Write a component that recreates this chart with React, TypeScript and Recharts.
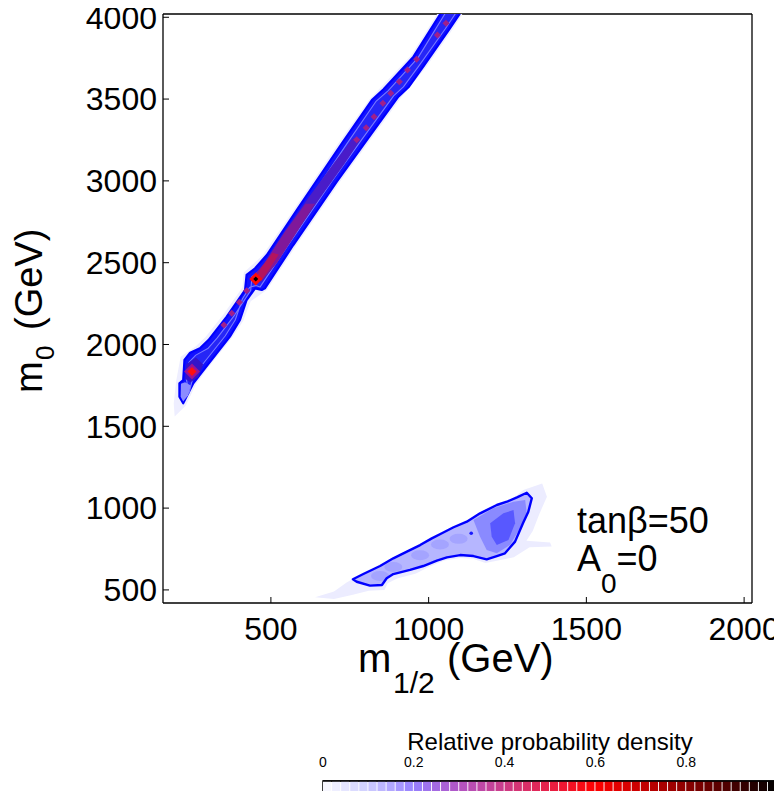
import React from "react";
import {
    Bar,
    BarChart,
    Cell,
    Customized,
    ReferenceArea,
    ReferenceLine,
    Scatter,
    ScatterChart,
    XAxis,
    YAxis,
} from "recharts";

type Pt = { x: number; y: number };

const FONT = "'Liberation Sans', Arial, Helvetica, sans-serif";

const X_TICKS = [500, 1000, 1500, 2000];
const Y_TICKS = [500, 1000, 1500, 2000, 2500, 3000, 3500, 4000];
const X_DOMAIN: [number, number] = [158, 2025];
const Y_DOMAIN: [number, number] = [420, 4020];

// focus-point band (upper-left), contour levels
const BAND_HALO: Pt[] = [
    { x: 195, y: 1560 }, { x: 192, y: 1640 }, { x: 200, y: 1780 }, { x: 214, y: 1925 },
    { x: 262, y: 1990 }, { x: 292, y: 2045 }, { x: 350, y: 2185 }, { x: 410, y: 2350 },
    { x: 414, y: 2440 }, { x: 474, y: 2545 }, { x: 574, y: 2828 }, { x: 716, y: 3236 },
    { x: 812, y: 3498 }, { x: 944, y: 3766 }, { x: 1040, y: 4060 }, { x: 1120, y: 4060 },
    { x: 1078, y: 3932 }, { x: 992, y: 3694 }, { x: 914, y: 3512 }, { x: 814, y: 3247 },
    { x: 718, y: 2992 }, { x: 580, y: 2604 }, { x: 488, y: 2334 }, { x: 436, y: 2264 },
    { x: 412, y: 2144 }, { x: 378, y: 2044 }, { x: 298, y: 1850 }, { x: 262, y: 1755 },
    { x: 230, y: 1625 },
];

const BAND_CONTOUR: Pt[] = [
    { x: 222, y: 1641 }, { x: 210, y: 1681 }, { x: 210, y: 1763 }, { x: 222, y: 1783 },
    { x: 226, y: 1905 }, { x: 244, y: 1950 }, { x: 275, y: 1977 }, { x: 302, y: 2027 },
    { x: 360, y: 2170 }, { x: 418, y: 2333 }, { x: 423, y: 2425 }, { x: 450, y: 2466 },
    { x: 487, y: 2547 }, { x: 582, y: 2822 }, { x: 725, y: 3230 }, { x: 820, y: 3494 },
    { x: 857, y: 3560 }, { x: 952, y: 3759 }, { x: 1050, y: 4060 }, { x: 1112, y: 4060 },
    { x: 1068, y: 3933 }, { x: 983, y: 3698 }, { x: 936, y: 3572 }, { x: 904, y: 3515 },
    { x: 804, y: 3250 }, { x: 709, y: 2995 }, { x: 571, y: 2608 }, { x: 481, y: 2343 },
    { x: 471, y: 2333 }, { x: 450, y: 2343 }, { x: 423, y: 2272 }, { x: 402, y: 2150 },
    { x: 370, y: 2048 }, { x: 291, y: 1854 }, { x: 254, y: 1763 },
];

const BAND_INNER: Pt[] = [
    { x: 240, y: 1700 }, { x: 232, y: 1790 }, { x: 240, y: 1890 }, { x: 262, y: 1935 },
    { x: 300, y: 1975 }, { x: 330, y: 2040 }, { x: 385, y: 2180 }, { x: 436, y: 2330 },
    { x: 440, y: 2415 }, { x: 468, y: 2455 }, { x: 505, y: 2545 }, { x: 598, y: 2815 },
    { x: 740, y: 3225 }, { x: 834, y: 3488 }, { x: 872, y: 3552 }, { x: 966, y: 3752 },
    { x: 1064, y: 4060 }, { x: 1098, y: 4060 }, { x: 1053, y: 3930 }, { x: 968, y: 3700 },
    { x: 920, y: 3575 }, { x: 889, y: 3520 }, { x: 789, y: 3255 }, { x: 694, y: 3000 },
    { x: 556, y: 2612 }, { x: 466, y: 2352 }, { x: 452, y: 2360 }, { x: 433, y: 2350 },
    { x: 410, y: 2280 }, { x: 387, y: 2150 }, { x: 355, y: 2052 }, { x: 280, y: 1870 },
    { x: 252, y: 1790 },
];

const BAND_CORE: Pt[] = [
    { x: 440, y: 2390 }, { x: 470, y: 2470 }, { x: 540, y: 2680 }, { x: 620, y: 2900 },
    { x: 700, y: 3110 }, { x: 760, y: 3260 }, { x: 785, y: 3255 }, { x: 735, y: 3110 },
    { x: 650, y: 2880 }, { x: 575, y: 2670 }, { x: 510, y: 2480 }, { x: 470, y: 2380 },
];

const BAND_CORE_INNER: Pt[] = [
    { x: 445, y: 2420 }, { x: 480, y: 2500 }, { x: 545, y: 2690 }, { x: 610, y: 2860 },
    { x: 640, y: 2860 }, { x: 580, y: 2680 }, { x: 520, y: 2500 }, { x: 475, y: 2400 },
];

const BAND_HOT: Pt[] = [
    { x: 448, y: 2395 }, { x: 470, y: 2470 }, { x: 505, y: 2560 }, { x: 525, y: 2550 },
    { x: 495, y: 2460 }, { x: 470, y: 2390 },
];

const BAND_LOW_CORE: Pt[] = [
    { x: 228, y: 1790 }, { x: 232, y: 1880 }, { x: 262, y: 1920 }, { x: 285, y: 1880 },
    { x: 270, y: 1800 }, { x: 245, y: 1770 },
];

const BAND_LOW_LIGHT: Pt[] = [
    { x: 214, y: 1680 }, { x: 222, y: 1652 }, { x: 238, y: 1690 }, { x: 246, y: 1750 },
    { x: 228, y: 1770 }, { x: 215, y: 1760 },
];

const PURPLE_DOTS: Pt[] = [
    { x: 1055, y: 3963 }, { x: 1028, y: 3892 }, { x: 962, y: 3743 }, { x: 933, y: 3678 },
    { x: 907, y: 3606 }, { x: 880, y: 3535 }, { x: 855, y: 3475 }, { x: 827, y: 3392 },
    { x: 802, y: 3325 }, { x: 772, y: 3251 }, { x: 423, y: 2329 }, { x: 400, y: 2258 },
    { x: 376, y: 2191 }, { x: 351, y: 2119 },
];

const RED_SPOT: Pt[] = [{ x: 250, y: 1835 }];
const BEST_FIT: Pt[] = [{ x: 452, y: 2400 }];

// stau co-annihilation island (lower right)
const BLOB_HALO: Pt[] = [
    { x: 640, y: 455 }, { x: 700, y: 490 }, { x: 740, y: 545 }, { x: 790, y: 600 },
    { x: 860, y: 660 }, { x: 930, y: 715 }, { x: 1000, y: 790 }, { x: 1070, y: 860 },
    { x: 1140, y: 915 }, { x: 1200, y: 990 }, { x: 1250, y: 1030 }, { x: 1300, y: 1110 },
    { x: 1360, y: 1150 }, { x: 1375, y: 1070 }, { x: 1350, y: 960 }, { x: 1330, y: 860 },
    { x: 1310, y: 800 }, { x: 1385, y: 790 }, { x: 1390, y: 765 }, { x: 1320, y: 760 },
    { x: 1270, y: 700 }, { x: 1220, y: 680 }, { x: 1180, y: 665 }, { x: 1140, y: 690 },
    { x: 1100, y: 695 }, { x: 1050, y: 680 }, { x: 1000, y: 640 }, { x: 960, y: 600 },
    { x: 900, y: 570 }, { x: 870, y: 540 }, { x: 860, y: 500 }, { x: 810, y: 495 },
    { x: 760, y: 470 }, { x: 700, y: 445 },
];

const BLOB_CONTOUR: Pt[] = [
    { x: 760, y: 565 }, { x: 793, y: 597 }, { x: 846, y: 646 }, { x: 888, y: 693 },
    { x: 931, y: 734 }, { x: 973, y: 774 }, { x: 1010, y: 815 }, { x: 1042, y: 846 },
    { x: 1079, y: 883 }, { x: 1121, y: 917 }, { x: 1163, y: 968 }, { x: 1216, y: 1019 },
    { x: 1248, y: 1039 }, { x: 1280, y: 1066 }, { x: 1311, y: 1094 }, { x: 1327, y: 1060 },
    { x: 1316, y: 978 }, { x: 1299, y: 907 }, { x: 1274, y: 795 }, { x: 1242, y: 724 },
    { x: 1216, y: 707 }, { x: 1184, y: 687 }, { x: 1142, y: 707 }, { x: 1100, y: 713 },
    { x: 1058, y: 699 }, { x: 1026, y: 679 }, { x: 983, y: 646 }, { x: 941, y: 622 },
    { x: 888, y: 597 }, { x: 867, y: 571 }, { x: 852, y: 530 }, { x: 814, y: 526 },
    { x: 772, y: 550 },
];

const BLOB_MID: Pt[] = [
    { x: 1142, y: 927 }, { x: 1205, y: 999 }, { x: 1269, y: 1039 }, { x: 1306, y: 1050 },
    { x: 1311, y: 968 }, { x: 1290, y: 877 }, { x: 1258, y: 774 }, { x: 1216, y: 724 },
    { x: 1184, y: 744 }, { x: 1163, y: 825 },
];

const BLOB_CORE: Pt[] = [
    { x: 1195, y: 907 }, { x: 1237, y: 968 }, { x: 1269, y: 988 }, { x: 1274, y: 907 },
    { x: 1253, y: 805 }, { x: 1216, y: 774 }, { x: 1200, y: 825 },
];

const BLOB_PATCHES: Pt[] = [
    { x: 846, y: 585 }, { x: 888, y: 640 }, { x: 973, y: 712 }, { x: 1036, y: 778 },
    { x: 1095, y: 812 },
];

const BLOB_DOT: Pt[] = [{ x: 1135, y: 846 }];

// colour bar
const CBAR_TICKS = [0, 0.2, 0.4, 0.6, 0.8, 1];
const CBAR_LEVELS = [
    0.01, 0.03, 0.05, 0.07, 0.09, 0.11, 0.13, 0.15, 0.17, 0.19,
    0.21, 0.23, 0.25, 0.27, 0.29, 0.31, 0.33, 0.35, 0.37, 0.39,
    0.41, 0.43, 0.45, 0.47, 0.49, 0.51, 0.53, 0.55, 0.57, 0.59,
    0.61, 0.63, 0.65, 0.67, 0.69, 0.71, 0.73, 0.75, 0.77, 0.79,
    0.81, 0.83, 0.85, 0.87, 0.89, 0.91, 0.93, 0.95, 0.97, 0.99,
];
const CBAR_STOP_POS = [0, 0.1, 0.2, 0.3, 0.4, 0.5, 0.6, 0.7, 0.8, 0.9, 1];
const CBAR_STOP_RGB = [
    [252, 252, 255], [205, 205, 255], [150, 128, 255], [178, 84, 196], [204, 60, 136],
    [232, 32, 70], [255, 0, 0], [200, 0, 0], [140, 0, 0], [72, 0, 0], [0, 0, 0],
];

function densityColor(v: number) {
    let i = 0;
    while (i < CBAR_STOP_POS.length - 2 && v > CBAR_STOP_POS[i + 1]) i++;
    const t = (v - CBAR_STOP_POS[i]) / (CBAR_STOP_POS[i + 1] - CBAR_STOP_POS[i]);
    const a = CBAR_STOP_RGB[i];
    const b = CBAR_STOP_RGB[i + 1];
    const c = a.map((ch, k) => Math.round(ch + (b[k] - ch) * t));
    return `rgb(${c[0]},${c[1]},${c[2]})`;
}

const AXIS_LINE = { stroke: "#000", strokeWidth: 1.3 };
const TICK_LINE = { stroke: "#000", strokeWidth: 1 };

const noPoint = () => <g />;

const polygon = (fill: string, stroke = "none", strokeWidth = 0) => (props: any) => {
    const pts = (props.points || []).filter((p: any) => p.x != null && p.y != null);
    if (!pts.length) return <g />;
    const d = pts.map((p: any, i: number) => `${i ? "L" : "M"}${p.x},${p.y}`).join("") + "Z";
    return (
        <path d={d} fill={fill} stroke={stroke} strokeWidth={strokeWidth} strokeLinejoin="round" />
    );
};

const diamond = (size: number, fill: string) => (props: any) => {
    const { cx, cy } = props;
    if (cx == null || cy == null) return <g />;
    const h = size / 2;
    return <path d={`M${cx},${cy - h}L${cx + h},${cy}L${cx},${cy + h}L${cx - h},${cy}Z`} fill={fill} />;
};

const blot = (rx: number, ry: number, fill: string) => (props: any) => {
    const { cx, cy } = props;
    if (cx == null || cy == null) return <g />;
    return <ellipse cx={cx} cy={cy} rx={rx} ry={ry} fill={fill} />;
};

function Labels() {
    return (
        <g fontFamily={FONT} fill="#000">
            <text x={569} y={533} fontSize={36}>tanβ=50</text>
            <text x={569} y={571} fontSize={36}>
                A<tspan fontSize={28} dy={22}>0</tspan>
                <tspan dy={-22}>=0</tspan>
            </text>
            <text x={350} y={672} fontSize={40}>m</text>
            <text x={385} y={693} fontSize={30}>1/2</text>
            <text x={439} y={672} fontSize={40}>(GeV)</text>
            <g transform="translate(34,393) rotate(-90)">
                <text x={0} y={0} fontSize={38}>m</text>
                <text x={33} y={12} fontSize={26}>0</text>
                <text x={63} y={0} fontSize={38}>(GeV)</text>
            </g>
        </g>
    );
}

// title plus the end label of the colour scale, which the axis drops
function ColorbarText() {
    return (
        <g fontFamily={FONT} fill="#000">
            <text x={542} y={42} fontSize={24} textAnchor="middle">
                Relative probability density
            </text>
            <text x={770} y={59} fontSize={14} textAnchor="middle">1</text>
        </g>
    );
}

const layer = (data: Pt[], line: any, shape: any = noPoint) => (
    <Scatter data={data} line={line} shape={shape} isAnimationActive={false} />
);

export default function App() {
    const cbar = CBAR_LEVELS.map((level) => ({ level, v: 1 }));

    return (
        <div style={{ position: "relative", width: 774, height: 791, marginBottom: -8 }}>
            <div style={{ position: "absolute", left: 0, top: -8 }}>
                <ScatterChart width={774} height={703} margin={{ top: 13, right: 29, bottom: 0, left: 0 }}>
                    <XAxis
                        type="number"
                        dataKey="x"
                        domain={X_DOMAIN}
                        allowDataOverflow
                        ticks={X_TICKS}
                        interval={0}
                        height={100}
                        tickSize={-6}
                        tickMargin={20}
                        axisLine={AXIS_LINE}
                        tickLine={TICK_LINE}
                        tick={{ fill: "#000", fontSize: 32, fontFamily: FONT }}
                    />
                    <XAxis
                        xAxisId="top"
                        orientation="top"
                        type="number"
                        dataKey="x"
                        domain={X_DOMAIN}
                        allowDataOverflow
                        ticks={X_TICKS}
                        interval={0}
                        height={1}
                        tickSize={-6}
                        axisLine={AXIS_LINE}
                        tickLine={TICK_LINE}
                        tick={false}
                    />
                    <YAxis
                        type="number"
                        dataKey="y"
                        domain={Y_DOMAIN}
                        allowDataOverflow
                        ticks={Y_TICKS}
                        interval={0}
                        width={155}
                        tickSize={-6}
                        tickMargin={12}
                        axisLine={AXIS_LINE}
                        tickLine={TICK_LINE}
                        tick={{ fill: "#000", fontSize: 32, fontFamily: FONT }}
                    />
                    <YAxis
                        yAxisId="right"
                        orientation="right"
                        type="number"
                        dataKey="y"
                        domain={Y_DOMAIN}
                        allowDataOverflow
                        ticks={Y_TICKS}
                        interval={0}
                        width={1}
                        tickSize={-6}
                        axisLine={AXIS_LINE}
                        tickLine={TICK_LINE}
                        tick={false}
                    />

                    {layer(BAND_HALO, polygon("#eeeeff"))}
                    {layer(BAND_CONTOUR, polygon("#1212ff", "#0000ff", 2.2))}
                    {layer(BAND_INNER, polygon("#2626f6", "#7a7aff", 1.1))}
                    {layer(BAND_LOW_LIGHT, polygon("#8c8cff"))}
                    {layer(BAND_LOW_CORE, polygon("#3414c8"))}
                    {layer(BAND_CORE, polygon("#4a1cc8"))}
                    {layer(BAND_CORE_INNER, polygon("#80189a"))}
                    {layer(BAND_HOT, polygon("#b4145e"))}
                    {layer(PURPLE_DOTS, false, diamond(7, "#a0208a"))}
                    {layer(RED_SPOT, false, diamond(16, "#9a1296"))}
                    {layer(RED_SPOT, false, diamond(9, "#ff1010"))}
                    {layer(BEST_FIT, false, diamond(13, "#ff0a0a"))}
                    {layer(BEST_FIT, false, diamond(5, "#000"))}

                    {layer(BLOB_HALO, polygon("#ececff"))}
                    {layer(BLOB_CONTOUR, polygon("#b6b6ff"))}
                    {layer(BLOB_PATCHES, false, blot(9, 5, "#a4a4ff"))}
                    {layer(BLOB_MID, polygon("#8a8aff"))}
                    {layer(BLOB_CORE, polygon("#5858ff"))}
                    {layer(BLOB_CONTOUR, polygon("none", "#0000ff", 2.4))}
                    {layer(BLOB_DOT, false, blot(1.8, 1.8, "#1a1aff"))}

                    <Customized component={Labels} />
                </ScatterChart>
            </div>
            <div style={{ position: "absolute", left: 0, top: 700, width: 774, height: 91, overflow: "hidden" }}>
                <BarChart
                    width={810}
                    height={92}
                    data={cbar}
                    margin={{ top: 53, right: 41, bottom: 0, left: 315 }}
                >
                    <XAxis
                        type="number"
                        dataKey="level"
                        orientation="top"
                        domain={[0, 1]}
                        allowDataOverflow
                        ticks={CBAR_TICKS}
                        interval={0}
                        height={20}
                        tickSize={-6}
                        axisLine={{ stroke: "#000", strokeWidth: 1.5 }}
                        tickLine={TICK_LINE}
                        tick={false}
                    />
                    <YAxis hide domain={[0, 1]} />
                    <Bar dataKey="v" barSize={10} isAnimationActive={false}>
                        {cbar.map((c, i) => (
                            <Cell key={`cb-${i}`} fill={densityColor(c.level)} />
                        ))}
                    </Bar>
                    <ReferenceArea x1={0} x2={1} y1={0} y2={1} fill="none" stroke="#000" strokeWidth={1.5} />
                    {CBAR_TICKS.slice(0, -1).map((t) => (
                        <ReferenceLine
                            key={`cbt-${t}`}
                            x={t}
                            stroke="none"
                            ifOverflow="visible"
                            label={{ value: String(t), position: "top", offset: 14, fontSize: 14, fill: "#000", fontFamily: FONT }}
                        />
                    ))}
                    <Customized component={ColorbarText} />
                </BarChart>
            </div>
        </div>
    );
}
